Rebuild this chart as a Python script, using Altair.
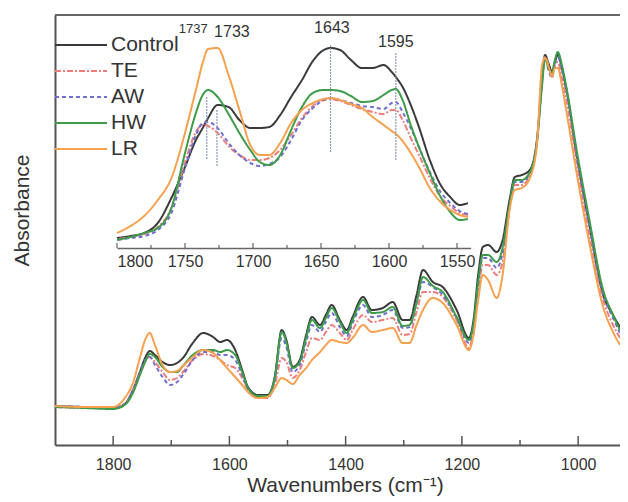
import altair as alt
import pandas as pd

series = ["Control", "TE", "AW", "HW", "LR"]
colors = ["#3a3a3a", "#f07c7c", "#6f6fd0", "#3c9c4a", "#f5a14f"]
dashes = [[1, 0], [6, 2, 2, 2], [4, 3], [1, 0], [1, 0]]

# ---- main spectrum (absorbance, arbitrary units) ----
wn_main = [1900, 1850, 1800, 1780, 1766, 1754, 1745, 1737, 1728, 1715,
           1702, 1690, 1680, 1663, 1645, 1628, 1616, 1604, 1590, 1578,
           1568, 1551, 1534, 1522, 1510, 1502, 1491, 1479, 1468, 1458,
           1444, 1434, 1424, 1410, 1398, 1388, 1370, 1355, 1336, 1319,
           1302, 1290, 1278, 1267, 1250, 1233, 1209, 1188, 1180, 1172,
           1164, 1155, 1140, 1130, 1118, 1109, 1097, 1083, 1071, 1062,
           1057, 1050, 1045, 1040, 1035, 1028, 1020, 1002, 980, 958,
           940, 928]
main_control = [39, 38, 37, 41, 55, 73, 87, 94, 90, 83, 80, 82, 87, 102, 112,
                108, 103, 105, 95, 75, 58, 50, 50, 68, 115, 105, 78, 85, 110, 128,
                120, 130, 140, 125, 115, 128, 148, 135, 137, 143, 125, 125, 150, 175, 163,
                158, 135, 107, 125, 170, 198, 200, 193, 205, 245, 268, 270, 275, 305, 365,
                390, 380, 373, 383, 390, 377, 355, 288, 218, 152, 130, 118]
main_te = [38, 37, 37, 41, 54, 71, 83, 88, 83, 73, 65, 67, 73, 85, 91,
           89, 85, 80, 77, 67, 55, 47, 47, 60, 87, 83, 67, 75, 93, 107,
           105, 113, 120, 112, 105, 115, 130, 123, 125, 127, 110, 111, 133, 153, 153,
           148, 125, 97, 115, 153, 180, 180, 170, 183, 237, 260, 260, 270, 302, 370,
           388, 377, 369, 380, 383, 367, 345, 280, 207, 147, 120, 107]
main_aw = [39, 38, 37, 41, 54, 72, 85, 88, 80, 68, 60, 63, 70, 85, 93,
           93, 90, 90, 85, 70, 56, 48, 48, 65, 107, 98, 73, 80, 103, 120,
           113, 123, 132, 118, 109, 122, 140, 128, 130, 135, 117, 118, 142, 163, 158,
           150, 127, 102, 118, 160, 187, 187, 177, 192, 240, 263, 263, 272, 302, 365,
           387, 373, 367, 381, 388, 375, 353, 287, 217, 153, 127, 112]
main_hw = [38, 37, 36, 40, 52, 70, 83, 91, 88, 78, 73, 73, 79, 90, 95,
           95, 93, 95, 90, 73, 57, 49, 49, 67, 113, 103, 77, 83, 107, 125,
           117, 127, 137, 123, 112, 125, 145, 132, 133, 138, 119, 120, 142, 168, 159,
           153, 128, 105, 121, 163, 190, 190, 183, 197, 240, 265, 265, 273, 302, 360,
           387, 375, 373, 385, 393, 380, 357, 293, 223, 157, 130, 115]
main_lr = [39, 38, 38, 47, 62, 87, 105, 112, 100, 80, 73, 74, 79, 88, 95,
           92, 85, 77, 68, 60, 53, 47, 48, 57, 67, 65, 61, 70, 77, 85,
           93, 100, 105, 103, 102, 107, 120, 113, 115, 117, 102, 102, 120, 135, 147,
           142, 120, 95, 110, 145, 170, 165, 147, 170, 235, 255, 257, 267, 300, 380,
           387, 377, 368, 377, 377, 360, 333, 270, 200, 140, 113, 100]

# ---- inset (1800-1540 cm-1) ----
wn_inset = [1800, 1790, 1780, 1770, 1760, 1750, 1742, 1737, 1733, 1726,
            1718, 1710, 1702, 1695, 1688, 1680, 1672, 1664, 1656, 1648,
            1643, 1636, 1628, 1620, 1612, 1604, 1598, 1595, 1590, 1584,
            1578, 1570, 1562, 1555, 1548, 1542]
inset_control = [12, 14, 17, 27, 52, 83, 110, 122, 132, 145, 143, 130, 122, 122, 123,
                 135, 153, 170, 189, 200, 202, 200, 190, 182, 182, 185, 178, 173, 163, 145,
                 123, 90, 65, 53, 45, 47]
inset_te = [11, 13, 16, 23, 42, 88, 118, 125, 124, 117, 104, 95, 90, 90, 92,
            100, 115, 132, 144, 150, 151, 149, 145, 141, 138, 136, 140, 140, 130, 112,
            95, 72, 53, 44, 37, 35]
inset_aw = [10, 12, 14, 20, 37, 82, 115, 127, 128, 122, 107, 95, 87, 84, 86,
            93, 110, 130, 142, 150, 152, 150, 147, 144, 143, 141, 147, 148, 138, 122,
            103, 78, 58, 47, 39, 36]
inset_hw = [10, 13, 17, 22, 42, 97, 137, 155, 160, 153, 136, 117, 100, 88, 85,
            95, 120, 143, 157, 160, 160, 159, 154, 148, 149, 155, 160, 161, 150, 125,
            103, 77, 53, 38, 30, 31]
inset_lr = [17, 24, 34, 50, 72, 117, 160, 187, 201, 202, 175, 140, 105, 95, 95,
            107, 127, 140, 147, 151, 152, 150, 146, 142, 133, 125, 119, 116, 109, 97,
            83, 62, 48, 40, 35, 33]

# peak markers in the inset
peak_labels = ["1737", "1733", "1643", "1595"]
peak_line_wn = [1734, 1726.5, 1643, 1595]
peak_line_top = [153, 140, 205, 197]
peak_line_bottom = [90, 83, 98, 90]
peak_label_wn = [1744, 1715.5, 1642, 1595]
peak_label_v = [221, 218, 222, 208]

main_ticks_major = [1800, 1600, 1400, 1200, 1000]
main_ticks_minor = [1700, 1500, 1300, 1100]
inset_ticks_major = [1800, 1750, 1700, 1650, 1600, 1550]
inset_ticks_minor = [1775, 1725, 1675, 1625, 1575]

FONT = "Liberation Sans"
W, H = 565, 430

def long_df(wn, cols):
    rows = []
    for name, vals in zip(series, cols):
        for w, v in zip(wn, vals):
            rows.append({"wn": w, "A": v, "series": name})
    return pd.DataFrame(rows)

main_df = long_df(wn_main, [main_control, main_te, main_aw, main_hw, main_lr])
inset_df = long_df(wn_inset, [inset_control, inset_te, inset_aw, inset_hw, inset_lr])

color_scale = alt.Scale(domain=series, range=colors)
dash_scale = alt.Scale(domain=series, range=dashes)

xs_main = alt.Scale(domain=[1900, 928], nice=False, zero=False)
ys_main = alt.Scale(domain=[0, 430], nice=False, zero=False)
xs_in = alt.Scale(domain=[1800, 1540], range=[62, 415.6], nice=False, zero=False)
ys_in = alt.Scale(domain=[0, 200], range=[235, 35], nice=False, zero=False)
leg_scale = alt.Scale(type="point", domain=series, range=[30, 134], padding=0)

color_enc = alt.Color("series:N", scale=color_scale, legend=None)
dash_enc = alt.StrokeDash("series:N", scale=dash_scale, legend=None)

main_lines = alt.Chart(main_df).mark_line(interpolate="monotone", strokeWidth=2).encode(
    x=alt.X("wn:Q", scale=xs_main, axis=alt.Axis(
        values=main_ticks_major, format="d", ticks=False, labelPadding=11,
        labelFontSize=16, labelColor="#333", labelFont=FONT,
        domainColor="#555", domainWidth=2, grid=False,
        title="Wavenumbers (cm⁻¹)", titleFontSize=21, titleFont=FONT,
        titleFontWeight="normal", titleColor="#333",
        titleX=290, titleY=40, titleBaseline="middle", titleAlign="center")),
    y=alt.Y("A:Q", scale=ys_main, axis=alt.Axis(
        labels=False, ticks=False, grid=False,
        domainColor="#555", domainWidth=2,
        title="Absorbance", titleFontSize=21, titleFont=FONT,
        titleFontWeight="normal", titleColor="#333",
        titleX=-33, titleY=195, titleBaseline="middle", titleAlign="center", titleAngle=270)),
    color=color_enc, strokeDash=dash_enc, order=alt.Order("wn:Q"),
)

tick_major = alt.Chart(pd.DataFrame({"wn": main_ticks_major})).mark_rule(
    color="#555", strokeWidth=1.5).encode(
    x=alt.X("wn:Q", scale=xs_main, axis=None), y=alt.value(H), y2=alt.value(H - 9))
tick_minor = alt.Chart(pd.DataFrame({"wn": main_ticks_minor})).mark_rule(
    color="#555", strokeWidth=1.5).encode(
    x=alt.X("wn:Q", scale=xs_main, axis=None), y=alt.value(H), y2=alt.value(H - 5))
top_border = alt.Chart(pd.DataFrame({"k": [0]})).mark_rule(
    color="#666", strokeWidth=2).encode(
    x=alt.value(0), x2=alt.value(W), y=alt.value(0))

inset_lines = alt.Chart(inset_df).mark_line(interpolate="monotone", strokeWidth=2).encode(
    x=alt.X("wn:Q", scale=xs_in, axis=alt.Axis(
        orient="bottom", offset=-197, values=inset_ticks_major, format="d",
        ticks=False, labelPadding=5, labelFontSize=16,
        labelColor="#333", labelFont=FONT, domainColor="#666", domainWidth=1.5,
        grid=False, title=None)),
    y=alt.Y("A:Q", scale=ys_in, axis=None),
    color=color_enc, strokeDash=dash_enc, order=alt.Order("wn:Q"),
)
in_tick_major = alt.Chart(pd.DataFrame({"wn": inset_ticks_major})).mark_rule(
    color="#666", strokeWidth=1.2).encode(
    x=alt.X("wn:Q", scale=xs_in, axis=None), y=alt.value(233), y2=alt.value(228))
in_tick_minor = alt.Chart(pd.DataFrame({"wn": inset_ticks_minor})).mark_rule(
    color="#666", strokeWidth=1.2).encode(
    x=alt.X("wn:Q", scale=xs_in, axis=None), y=alt.value(233), y2=alt.value(230))

peaks_df = pd.DataFrame({"wn": peak_line_wn, "top": peak_line_top, "bot": peak_line_bottom})
peak_rules = alt.Chart(peaks_df).mark_rule(color="#8d9cb8", strokeWidth=1.2,
                                           strokeDash=[2, 1]).encode(
    x=alt.X("wn:Q", scale=xs_in, axis=None),
    y=alt.Y("top:Q", scale=ys_in, axis=None),
    y2="bot:Q")

labels_df = pd.DataFrame({"wn": peak_label_wn, "v": peak_label_v, "t": peak_labels})
lab_small = alt.Chart(labels_df.iloc[[0]]).mark_text(
    fontSize=13, font=FONT, color="#333", baseline="middle").encode(
    x=alt.X("wn:Q", scale=xs_in, axis=None),
    y=alt.Y("v:Q", scale=ys_in, axis=None), text="t:N")
lab_big = alt.Chart(labels_df.iloc[1:]).mark_text(
    fontSize=16, font=FONT, color="#333", baseline="middle").encode(
    x=alt.X("wn:Q", scale=xs_in, axis=None),
    y=alt.Y("v:Q", scale=ys_in, axis=None), text="t:N")

leg_df = pd.DataFrame({"series": series})
leg_lines = alt.Chart(leg_df).mark_rule(strokeWidth=2.2).encode(
    x=alt.value(0), x2=alt.value(52),
    y=alt.Y("series:N", scale=leg_scale, axis=None),
    color=color_enc, strokeDash=dash_enc)
leg_text = alt.Chart(leg_df).mark_text(
    align="left", baseline="middle", fontSize=21, font=FONT, color="#333").encode(
    x=alt.value(56),
    y=alt.Y("series:N", scale=leg_scale, axis=None),
    text="series:N")

chart = alt.layer(
    main_lines, tick_major, tick_minor, top_border,
    inset_lines, in_tick_major, in_tick_minor, peak_rules, lab_small, lab_big,
    leg_lines, leg_text,
).resolve_scale(
    x="independent", y="independent"
).properties(
    width=W, height=H,
    autosize=alt.AutoSizeParams(type="none"),
    padding={"left": 47, "top": 7, "right": 0, "bottom": 54},
).configure_view(stroke=None)

chart.save("out.html", embed_options={"renderer": "svg", "actions": False})
